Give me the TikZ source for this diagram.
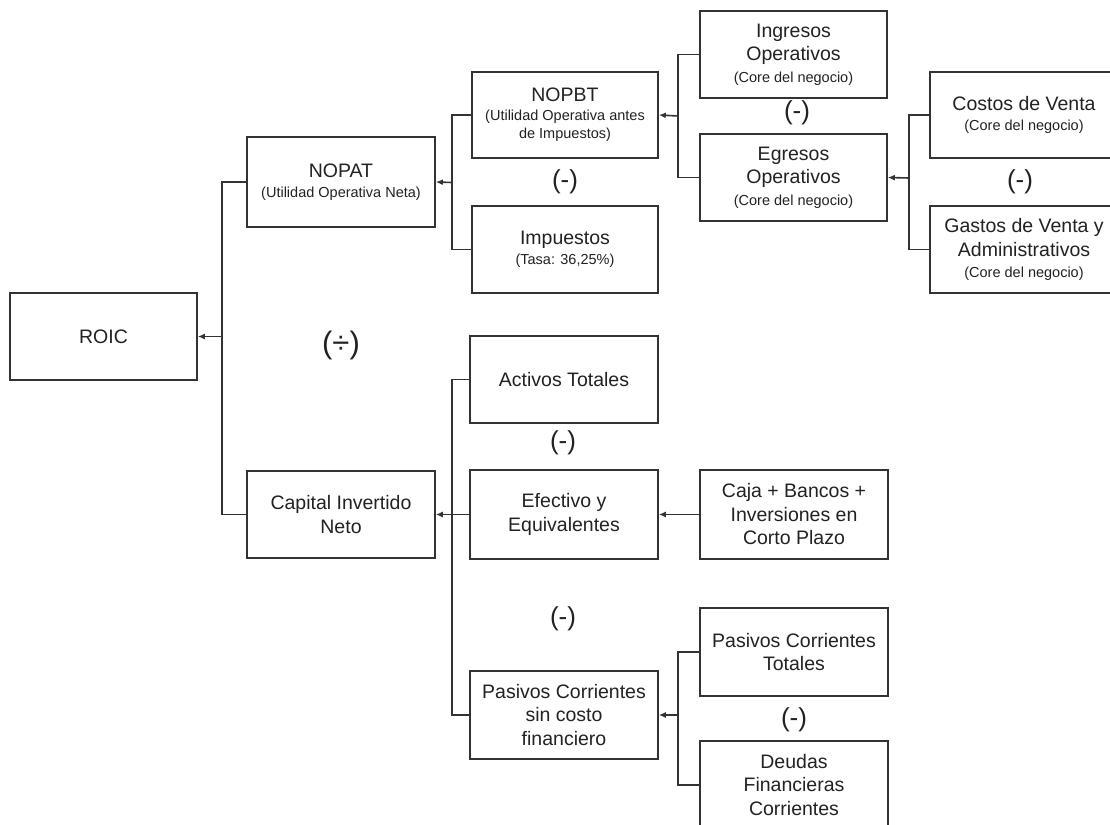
\documentclass[tikz,border=0pt]{standalone}
\usepackage{fontspec}
\setmainfont{Liberation Sans}
\usetikzlibrary{arrows.meta}
\definecolor{ln}{HTML}{333333}
\definecolor{tx}{HTML}{222222}
\newcommand{\smalltxt}{\fontsize{14.5}{17.5}\selectfont}
\begin{document}
\begin{tikzpicture}[x=1pt,y=-1pt,
  box/.style={draw=ln,line width=1.6pt,fill=white,minimum width=188pt,minimum height=87pt,align=center,inner sep=2pt,text=tx,font=\fontsize{19.5}{23.5}\selectfont},
  conn/.style={draw=ln,line width=1.6pt},
  arr/.style={conn,-{Latex[length=7pt,width=6pt]}},
  op/.style={text=tx,font=\fontsize{26}{30}\selectfont,inner sep=0pt}]
\useasboundingbox (0,0) rectangle (1110,824);
\clip (0,0) rectangle (1110,824);
\fill[white] (0,0) rectangle (1110,824);
% nodes
\node[box,minimum width=187pt] (roic) at (103.5,336.5) {ROIC};
\node[box,minimum height=90pt] (nopat) at (341,182) {NOPAT\\[-3pt]{\smalltxt (Utilidad Operativa Neta)}};
\node[box] (cap) at (341,514.5) {Capital Invertido\\Neto};
\node[box,minimum width=186pt,minimum height=86pt] (nopbt) at (565,115) {NOPBT\\[-5pt]{\smalltxt (Utilidad Operativa antes}\\[-5pt]{\smalltxt de Impuestos)}};
\node[box,minimum width=186pt] (imp) at (565,249.5) {Impuestos\\[-3pt]{\smalltxt (Tasa: 36,25\%)}};
\node[box,minimum width=187pt] (ing) at (793.5,54.5) {Ingresos\\Operativos\\[-2pt]{\smalltxt (Core del negocio)}};
\node[box,minimum width=187pt] (egr) at (793.5,177.5) {Egresos\\Operativos\\[-2pt]{\smalltxt (Core del negocio)}};
\node[box,minimum height=86pt] (cos) at (1024,115) {Costos de Venta\\[-3pt]{\smalltxt (Core del negocio)}};
\node[box] (gas) at (1024,249.5) {Gastos de Venta y\\Administrativos\\[-2pt]{\smalltxt (Core del negocio)}};
\node[box] (act) at (564,379.5) {Activos Totales};
\node[box,minimum height=89pt] (efe) at (564,514.5) {Efectivo y\\Equivalentes};
\node[box,minimum height=89pt] (caja) at (794,514.5) {Caja + Bancos +\\Inversiones en\\Corto Plazo};
\node[box,minimum height=88pt] (pas) at (564,715) {Pasivos Corrientes\\sin costo\\financiero};
\node[box,minimum height=88pt] (pct) at (794,652) {Pasivos Corrientes\\Totales};
\node[box,minimum height=88pt] (deu) at (794,785) {Deudas\\Financieras\\Corrientes};
% junctions
\coordinate (j1) at (222,336.5);
\coordinate (j2) at (452,182.5);
\coordinate (j3) at (678,116);
\coordinate (j4) at (909,178);
\coordinate (j5) at (452,514.5);
\coordinate (j6) at (678,715);
% connectors
\draw[conn] (nopat.west) -| (j1) |- (cap.west);
\draw[arr] (j1) -- (roic.east);
\draw[conn] (nopbt.west) -| (j2) |- (imp.west);
\draw[arr] (j2) -- (nopat.east);
\draw[conn] (ing.west) -| (j3) |- (egr.west);
\draw[arr] (j3) -- (nopbt.east);
\draw[conn] (cos.west) -| (j4) |- (gas.west);
\draw[arr] (j4) -- (egr.east);
\draw[conn] (act.west) -| (j5) |- (pas.west);
\draw[conn] (efe.west) -- (j5);
\draw[arr] (j5) -- (cap.east);
\draw[arr] (caja.west) -- (efe.east);
\draw[conn] (pct.west) -| (j6) |- (deu.west);
\draw[arr] (j6) -- (pas.east);
% operators
\node[op] (o1) at (797,113) {(-)};
\node[op] (o2) at (565,182) {(-)};
\node[op] (o3) at (1020,182) {(-)};
\node[op] (o4) at (563,443) {(-)};
\node[op] (o5) at (563,619) {(-)};
\node[op] (o6) at (794,720) {(-)};
\node[op,font=\fontsize{31}{34}\selectfont] (o7) at (341,345) {(÷)};
\end{tikzpicture}
\end{document}
